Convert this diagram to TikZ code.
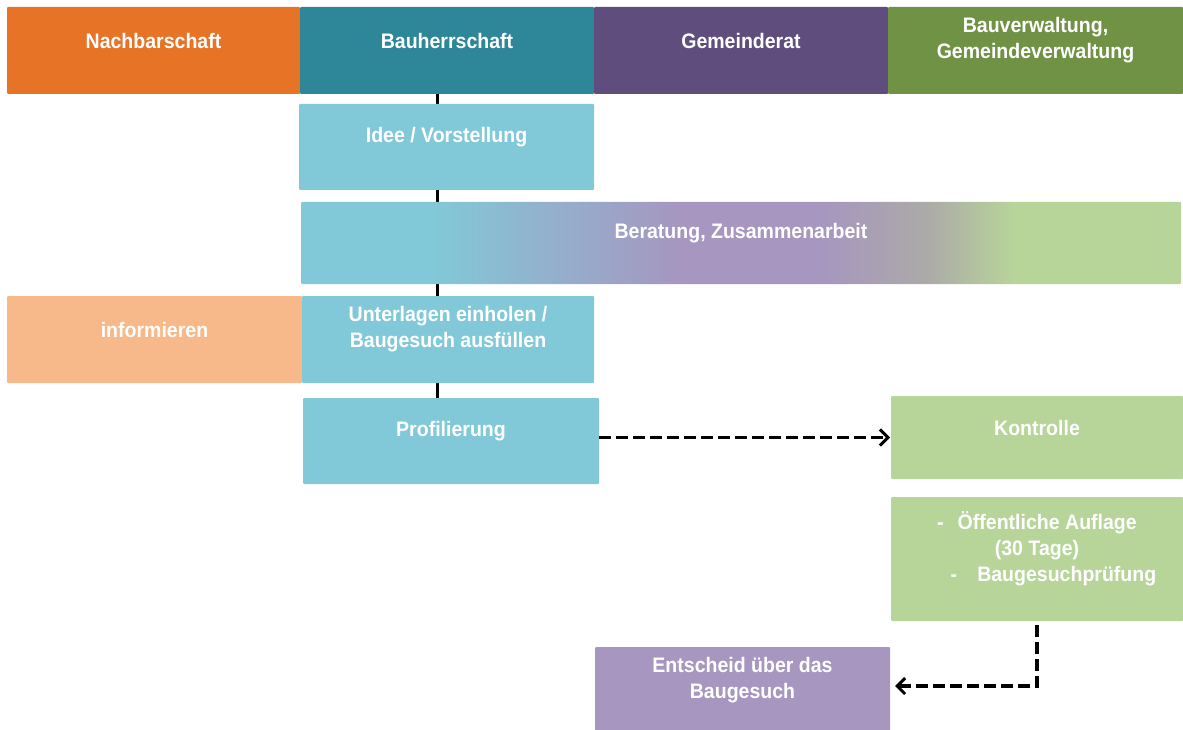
\documentclass[tikz,border=0pt]{standalone}
\usepackage{fontspec}
\setmainfont{Liberation Sans}[FakeStretch=0.93]
\usetikzlibrary{arrows.meta,backgrounds}

\definecolor{nachbarOrange}{RGB}{230,115,38}
\definecolor{bauherrTeal}{RGB}{46,134,153}
\definecolor{gemeindeLila}{RGB}{94,77,125}
\definecolor{verwaltGruen}{RGB}{112,146,68}
\definecolor{hellBlau}{RGB}{129,201,216}
\definecolor{hellOrange}{RGB}{247,185,137}
\definecolor{hellGruen}{RGB}{183,212,153}
\definecolor{hellLila}{RGB}{166,150,192}
\definecolor{mittelGrau}{RGB}{172,170,168}

% Verlauf fuer Beratung (Pfadbreite = 25bp..75bp)
\pgfdeclarehorizontalshading{beratungverlauf}{100bp}{color(0bp)=(hellBlau); color(32.3bp)=(hellBlau); color(46.5bp)=(hellLila); color(54.5bp)=(hellLila); color(60.5bp)=(mittelGrau); color(65.5bp)=(hellGruen); color(100bp)=(hellGruen)}

\begin{document}
\begin{tikzpicture}[x=1pt,y=-1pt,
  box/.style={draw=none,inner sep=0pt,outer sep=0pt,rounded corners=1pt},
  boxtext/.style={inner sep=0pt,text=white,align=center,font=\fontsize{21}{26}\selectfont\bfseries},
  rail/.style={draw=black,line width=3pt},
  flow/.style={draw=black,line width=3.3pt,dash pattern=on 12pt off 5pt,-{Straight Barb[length=8pt,width=16pt,line width=3pt]}}]
\useasboundingbox (0,0) rectangle (1183,730);

% Kopfzeile
\node[box,fill=nachbarOrange,minimum width=293pt,minimum height=87pt] (nachbar) at (153.5,50.5) {};
\node[box,fill=bauherrTeal,minimum width=294pt,minimum height=87pt] (bauherr) at (447,50.5) {};
\node[box,fill=gemeindeLila,minimum width=294pt,minimum height=87pt] (gemeinde) at (741,50.5) {};
\node[box,fill=verwaltGruen,minimum width=295pt,minimum height=87pt] (verwalt) at (1035.5,50.5) {};
\node[boxtext] (nachbar-t) at ([yshift=10pt]nachbar.center) {Nachbarschaft};
\node[boxtext] (bauherr-t) at ([yshift=10pt]bauherr.center) {Bauherrschaft};
\node[boxtext] (gemeinde-t) at ([yshift=10pt]gemeinde.center) {Gemeinderat};
\node[boxtext] (verwalt-t) at ([yshift=10pt]verwalt.center) {Bauverwaltung,\\Gemeindeverwaltung};

% Ablauf Bauherrschaft
\node[box,fill=hellBlau,minimum width=295pt,minimum height=86pt] (idee) at (446.5,147) {};
\node[box,shade,shading=beratungverlauf,minimum width=880pt,minimum height=82pt] (beratung) at (741,243) {};
\node[box,fill=hellOrange,minimum width=295pt,minimum height=87pt] (informieren) at (154.5,339.5) {};
\node[box,fill=hellBlau,minimum width=292pt,minimum height=87pt] (unterlagen) at (448,339.5) {};
\node[box,fill=hellBlau,minimum width=296pt,minimum height=86pt] (profil) at (451,441) {};
\node[boxtext] (idee-t) at ([yshift=10pt]idee.center) {Idee / Vorstellung};
\node[boxtext] (beratung-t) at ([yshift=10pt]beratung.center) {Beratung, Zusammenarbeit};
\node[boxtext] (informieren-t) at ([yshift=10pt]informieren.center) {informieren};
\node[boxtext] (unterlagen-t) at ([yshift=10pt]unterlagen.center) {Unterlagen einholen /\\Baugesuch ausfüllen};
\node[boxtext] (profil-t) at ([yshift=10pt]profil.center) {Profilierung};

% Verwaltung und Gemeinderat
\node[box,fill=hellGruen,minimum width=292pt,minimum height=83pt] (kontrolle) at (1037,437.5) {};
\node[box,fill=hellGruen,minimum width=292pt,minimum height=124pt] (auflage) at (1037,559) {};
\node[box,fill=hellLila,minimum width=295pt,minimum height=86pt] (entscheid) at (742.5,690) {};
\node[boxtext] (kontrolle-t) at ([yshift=10pt]kontrolle.center) {Kontrolle};
\node[boxtext] (auflage-t) at ([yshift=10pt]auflage.center) {-\hspace*{14pt}Öffentliche Auflage\\(30 Tage)\\\hspace*{33pt}-\hspace*{20pt}Baugesuchprüfung};
\node[boxtext] (entscheid-t) at ([yshift=10pt]entscheid.center) {Entscheid über das\\Baugesuch};

% Verbindungen
\begin{scope}[on background layer]
\draw[rail] ([xshift=-10pt]bauherr.south) -- ([xshift=-10pt]bauherr.south |- profil.north);
\end{scope}
\draw[flow] (profil.east |- kontrolle.west) -- ([xshift=-1pt]kontrolle.west);
\draw[flow] ([yshift=-4pt]auflage.south) |- ([xshift=5pt,yshift=4pt]entscheid.east);

\end{tikzpicture}
\end{document}
